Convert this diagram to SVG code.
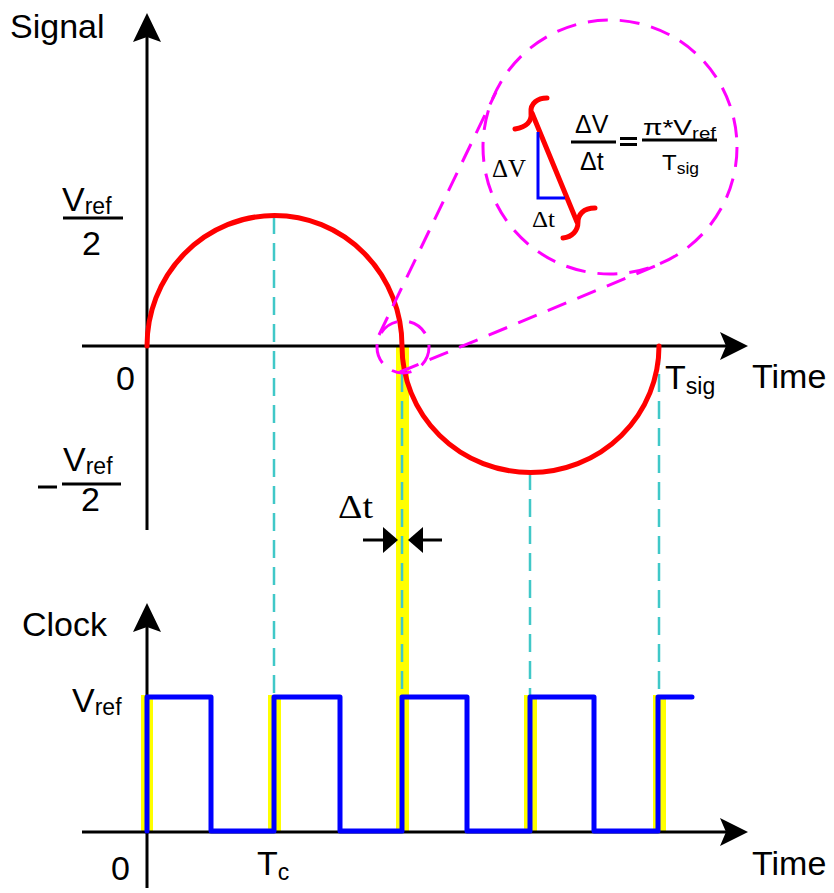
<svg xmlns="http://www.w3.org/2000/svg" width="834" height="893" viewBox="0 0 834 893">
<style>
.ax{stroke:#000;stroke-width:3;fill:none}
.ah{fill:#000;stroke:none}
.red{stroke:#ff0000;stroke-width:5;fill:none;stroke-linecap:round}
.cy{stroke:#40c8c8;stroke-width:2.5;stroke-dasharray:18 9;fill:none}
.yel{fill:#ffff00;stroke:none}
.blue{stroke:#0000ff;stroke-width:5;fill:none;stroke-linejoin:round;stroke-linecap:round}
.mag{stroke:#ff00ff;stroke-width:3;stroke-dasharray:20 12;fill:none}
.t{font-family:"Liberation Sans",Arial,sans-serif;font-size:34px;fill:#000}
.f25{font-size:25px}
.f22{font-size:22px}
.f16{font-size:16px}
.ts{font-family:"Liberation Serif","Times New Roman",serif;fill:#000}
.sub{font-size:23px}
.fl{stroke:#000;stroke-width:3}
</style>
<defs>
<path id="arrUp" d="M0,0 L14,29 L0,24 L-14,29 Z"/>
<path id="arrRight" d="M0,0 L-28,14 L-22,0 L-28,-14 Z"/>
</defs>

<!-- yellow highlight bands -->
<g id="highlights">
<rect class="yel" x="396" y="347" width="13" height="485"/>
<rect class="yel" x="141" y="695" width="12" height="137"/>
<rect class="yel" x="268" y="695" width="13" height="137"/>
<rect class="yel" x="524" y="695" width="13" height="137"/>
<rect class="yel" x="653" y="695" width="13" height="137"/>
</g>

<!-- cyan dashed guide lines -->
<g id="guides">
<line class="cy" x1="274" y1="216" x2="274" y2="697"/>
<line class="cy" x1="402" y1="347" x2="402" y2="697"/>
<line class="cy" x1="530" y1="472" x2="530" y2="697"/>
<line class="cy" x1="659" y1="347" x2="659" y2="697"/>
</g>

<!-- axes -->
<g id="signal-axes">
<line class="ax" x1="147" y1="530" x2="147" y2="30"/>
<use href="#arrUp" x="147" y="13" class="ah"/>
<line class="ax" x1="82" y1="346" x2="735" y2="346"/>
<use href="#arrRight" x="748" y="346" class="ah"/>
</g>
<g id="clock-axes">
<line class="ax" x1="147" y1="888" x2="147" y2="620"/>
<use href="#arrUp" x="147" y="603" class="ah"/>
<line class="ax" x1="82" y1="832" x2="735" y2="832"/>
<use href="#arrRight" x="748" y="832" class="ah"/>
</g>

<!-- signal curve -->
<g id="signal">
<path class="red" d="M147,346 A127,130 0 0 1 402,346 A128,126 0 0 0 659,346"/>
</g>

<!-- clock waveform -->
<g id="clock">
<path class="blue" d="M147,831 L147,697 L211,697 L211,831 L274,831 L274,697 L340,697 L340,831 L402,831 L402,697 L467,697 L467,831 L530,831 L530,697 L594,697 L594,831 L658,831 L658,697 L692,697"/>
</g>

<!-- zoom callout -->
<g id="callout">
<circle class="mag" cx="403" cy="347" r="26"/>
<circle class="mag" cx="610" cy="147" r="127"/>
<line class="mag" x1="379" y1="335" x2="496" y2="92"/>
<line class="mag" x1="400" y1="372" x2="660" y2="264"/>
</g>

<g id="callout-content">
<path class="red" d="M515,129 C527,127 532,121 531,113 C530,103 538,98 547,98" stroke-width="3.5"/>
<line class="red" x1="532" y1="113" x2="577" y2="222" stroke-width="3.5"/>
<path class="red" d="M595,208 C583,208 578,215 578,222 C578,231 572,237 563,238" stroke-width="3.5"/>
<path d="M538,132 L538,198 L565,198" stroke="#0000ff" stroke-width="3" fill="none"/>
<text class="ts" x="492" y="177" font-size="26" textLength="34" lengthAdjust="spacingAndGlyphs">ΔV</text>
<text class="ts" x="532" y="227" font-size="24" textLength="23" lengthAdjust="spacingAndGlyphs">Δt</text>
<text class="t f25" x="575" y="133">ΔV</text>
<line class="fl" x1="571" y1="142" x2="616" y2="142"/>
<text class="t f25" x="580" y="170">Δt</text>
<rect x="620" y="137" width="17" height="3" fill="#000"/>
<rect x="620" y="143" width="17" height="3" fill="#000"/>
<line class="fl" x1="642" y1="140" x2="717" y2="140"/>
<text class="t f22" x="643" y="135" textLength="73" lengthAdjust="spacingAndGlyphs">π*V<tspan class="f16" dy="4">ref</tspan></text>
<text class="t f22" x="662" y="170" textLength="37" lengthAdjust="spacingAndGlyphs">T<tspan class="f16" dy="4">sig</tspan></text>
</g>

<!-- delta t markers -->
<g id="dt-marker">
<line class="ax" x1="363" y1="540" x2="386" y2="540" stroke-width="2.5"/>
<polygon class="ah" points="383,527 398,540 383,553"/>
<line class="ax" x1="420" y1="540" x2="442" y2="540" stroke-width="2.5"/>
<polygon class="ah" points="423,527 408,540 423,553"/>
<text class="ts" x="338" y="518" font-size="33" textLength="35" lengthAdjust="spacingAndGlyphs">Δt</text>
</g>

<!-- labels -->
<g id="labels">
<text class="t" x="10" y="38">Signal</text>
<text class="t" x="62" y="211">V<tspan class="sub" dy="3">ref</tspan></text>
<line class="fl" x1="63" y1="218" x2="123" y2="218"/>
<text class="t" x="82" y="255">2</text>
<text class="t" x="116" y="390">0</text>
<line class="fl" x1="38" y1="487" x2="57" y2="487"/>
<text class="t" x="63" y="471">V<tspan class="sub" dy="3">ref</tspan></text>
<line class="fl" x1="62" y1="484" x2="121" y2="484"/>
<text class="t" x="81" y="511">2</text>
<text class="t" x="665" y="389">T<tspan class="sub" dy="5">sig</tspan></text>
<text class="t" x="752" y="388">Time</text>
<text class="t" x="22" y="636">Clock</text>
<text class="t" x="72" y="712">V<tspan class="sub" dy="3">ref</tspan></text>
<text class="t" x="111" y="880">0</text>
<text class="t" x="257" y="875">T<tspan class="sub" dy="5">c</tspan></text>
<text class="t" x="752" y="875">Time</text>
</g>
</svg>
